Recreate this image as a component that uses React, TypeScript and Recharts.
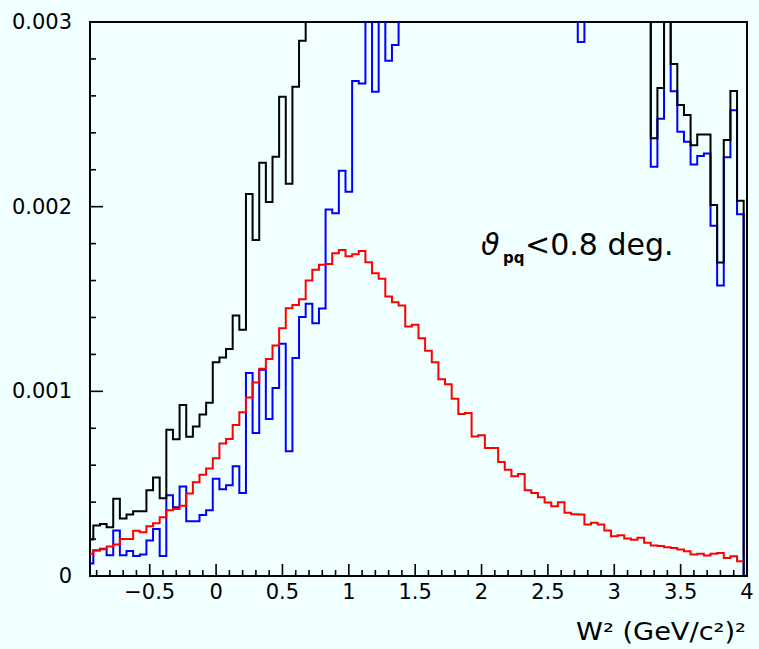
import { LineChart, Line, XAxis, YAxis, ReferenceArea } from "recharts";

// bin contents, in units of 1e-3, bins of width 0.05 starting at -0.975
const BLACK = [
  0.197, 0.273, 0.282, 0.264, 0.419, 0.311, 0.333, 0.351, 0.351, 0.464,
  0.534, 0.421, 0.792, 0.74, 0.926, 0.754, 0.81, 0.875, 0.938, 1.158,
  1.183, 1.229, 1.411, 1.333, 2.069, 1.82, 2.238, 2.025, 2.27, 2.595,
  2.124, 2.649, 2.898, 3.15, 3.3, 3.45, 3.6, 3.8, 4.0, 4.1,
  4.3, 4.4, 4.6, 4.5, 4.7, 4.8, 4.6, 4.5, 4.7, 4.4,
  4.3, 4.5, 4.2, 4.1, 4.3, 4.0, 3.9, 4.1, 3.8, 3.9,
  3.7, 3.8, 3.6, 3.7, 3.5, 3.6, 3.5, 3.4, 3.6, 3.3,
  3.5, 3.4, 3.3, 3.5, 3.3, 3.4, 3.2, 3.3, 3.4, 3.2,
  3.3, 3.2, 3.4, 3.2, 3.1, 2.371, 2.642, 3.1, 2.773, 2.551,
  2.497, 2.332, 2.391, 2.391, 2.009, 1.697, 2.361, 2.626, 2.032,
];

const BLUE = [
  0.068, 0.138, 0.148, 0.113, 0.246, 0.113, 0.135, 0.108, 0.116, 0.192,
  0.255, 0.108, 0.437, 0.372, 0.484, 0.296, 0.296, 0.33, 0.356, 0.526,
  0.47, 0.491, 0.594, 0.45, 1.099, 0.774, 1.117, 0.85, 1.018, 1.257,
  0.675, 1.18, 1.402, 1.474, 1.369, 1.448, 1.984, 1.964, 2.195, 2.081,
  2.681, 2.667, 3.05, 2.622, 3.1, 2.79, 2.875, 3.2, 3.4, 3.5,
  3.6, 3.7, 3.6, 3.5, 3.6, 3.4, 3.5, 3.3, 3.4, 3.3,
  3.2, 3.3, 3.2, 3.1, 3.2, 3.1, 3.2, 3.1, 3.15, 3.05,
  3.1, 3.05, 3.1, 3.02, 2.892, 3.05, 3.02, 3.1, 3.05, 3.02,
  3.1, 3.05, 3.02, 3.1, 3.02, 2.216, 2.476, 3.02, 2.625, 2.406,
  2.352, 2.228, 2.274, 2.288, 1.897, 1.573, 2.268, 2.522, 1.959,
];

const RED = [
  0.12, 0.14, 0.145, 0.16, 0.17, 0.2, 0.2, 0.245, 0.237, 0.27,
  0.285, 0.318, 0.356, 0.363, 0.38, 0.447, 0.508, 0.548, 0.582, 0.637,
  0.717, 0.742, 0.818, 0.887, 0.967, 1.048, 1.122, 1.175, 1.248, 1.342,
  1.45, 1.468, 1.499, 1.6, 1.658, 1.685, 1.69, 1.748, 1.766, 1.732,
  1.742, 1.76, 1.699, 1.64, 1.609, 1.513, 1.483, 1.465, 1.351, 1.36,
  1.288, 1.22, 1.158, 1.066, 1.039, 0.96, 0.877, 0.883, 0.756, 0.762,
  0.693, 0.693, 0.618, 0.576, 0.54, 0.553, 0.464, 0.45, 0.426, 0.398,
  0.378, 0.399, 0.342, 0.335, 0.333, 0.279, 0.288, 0.279, 0.246, 0.215,
  0.221, 0.203, 0.196, 0.207, 0.18, 0.165, 0.162, 0.156, 0.151, 0.143,
  0.134, 0.116, 0.12, 0.111, 0.12, 0.125, 0.098, 0.107, 0.08,
];

const BIN_LO = -0.975;
const BIN_W = 0.05;
const NBINS = RED.length;

const X_TICKS = Array.from({ length: 50 }, (_, i) => (i - 9) / 10);
const Y_TICKS = Array.from({ length: 16 }, (_, i) => i / 5000);

// one row per bin edge; last row closes the histograms
const rows = Array.from({ length: NBINS + 1 }, (_, k) => {
  const x = BIN_LO + BIN_W * k;
  if (k < NBINS) {
    return { x, red: RED[k] / 1000, blue: BLUE[k] / 1000, black: BLACK[k] / 1000 };
  }
  return { x, red: RED[NBINS - 1] / 1000, blue: 0, black: 0 };
});

const FONT = "DejaVu Sans";

function fmtX(v: number) {
  if (v === 0) return "0";
  return v < 0 ? "\u2212" + Math.abs(v) : String(v);
}

function XTick(props: any) {
  const { x, y, payload } = props;
  const v = payload.value;
  const major = Math.abs(v * 2 - Math.round(v * 2)) < 1e-6;
  return (
    <g>
      <line x1={x} x2={x} y1={y} y2={y - (major ? 12 : 6)} stroke="#000" strokeWidth={1.6} />
      {major && (
        <text x={x} y={y + 23} textAnchor="middle" fontFamily={FONT} fontSize={21} fill="#000">
          {fmtX(v)}
        </text>
      )}
    </g>
  );
}

function YTick(props: any) {
  const { x, y, payload } = props;
  const v = payload.value;
  const major = Math.round(v * 5000) % 5 === 0;
  return (
    <g>
      <line x1={x} x2={x + (major ? 13 : 6)} y1={y} y2={y} stroke="#000" strokeWidth={1.6} />
      {major && (
        <text x={x - 18} y={y + 7} textAnchor="end" fontFamily={FONT} fontSize={21} fill="#000">
          {v === 0 ? "0" : v.toFixed(3)}
        </text>
      )}
    </g>
  );
}

export default function App() {
  return (
    <div style={{ position: "absolute", left: 0, top: 0, width: 759, height: 649, background: "#f0ffff" }}>
      <LineChart width={759} height={649} data={rows} margin={{ top: 22, right: 12, bottom: 0, left: 0 }}>
        <XAxis
          dataKey="x"
          type="number"
          domain={[-0.95, 4]}
          allowDataOverflow
          ticks={X_TICKS}
          interval={0}
          tick={<XTick />}
          tickLine={false}
          axisLine={false}
          tickSize={0}
          tickMargin={0}
          height={73}
        />
        <YAxis
          type="number"
          domain={[0, 0.003]}
          allowDataOverflow
          ticks={Y_TICKS}
          interval={0}
          tick={<YTick />}
          tickLine={false}
          axisLine={false}
          tickSize={0}
          tickMargin={0}
          width={90}
        />
        <Line type="stepAfter" dataKey="blue" stroke="#0000ff" strokeWidth={2} dot={false} activeDot={false} isAnimationActive={false} />
        <Line type="stepAfter" dataKey="black" stroke="#000000" strokeWidth={2} dot={false} activeDot={false} isAnimationActive={false} />
        <Line type="stepAfter" dataKey="red" stroke="#ff0000" strokeWidth={2} dot={false} activeDot={false} isAnimationActive={false} />
        <ReferenceArea x1={-0.95} x2={4} y1={0} y2={0.003} fill="none" stroke="#000" strokeWidth={2} ifOverflow="visible" />
      </LineChart>
      <svg width={759} height={649} style={{ position: "absolute", left: 0, top: 0, pointerEvents: "none" }}>
        <text x={481} y={255} fontFamily={FONT} fontSize={30} fontStyle="italic" fill="#000">
          {"\u03d1"}
        </text>
        <text x={503} y={263} fontFamily={FONT} fontSize={15} fontWeight="bold" fill="#000">
          pq
        </text>
        <text x={525} y={255} fontFamily={FONT} fontSize={30} fill="#000">
          {"<0.8 deg."}
        </text>
        <text
          x={746}
          y={640}
          textAnchor="end"
          fontFamily={FONT}
          fontSize={24}
          textLength={170}
          lengthAdjust="spacingAndGlyphs"
          fill="#000"
        >
          {"W\u00b2 (GeV/c\u00b2)\u00b2"}
        </text>
      </svg>
    </div>
  );
}
